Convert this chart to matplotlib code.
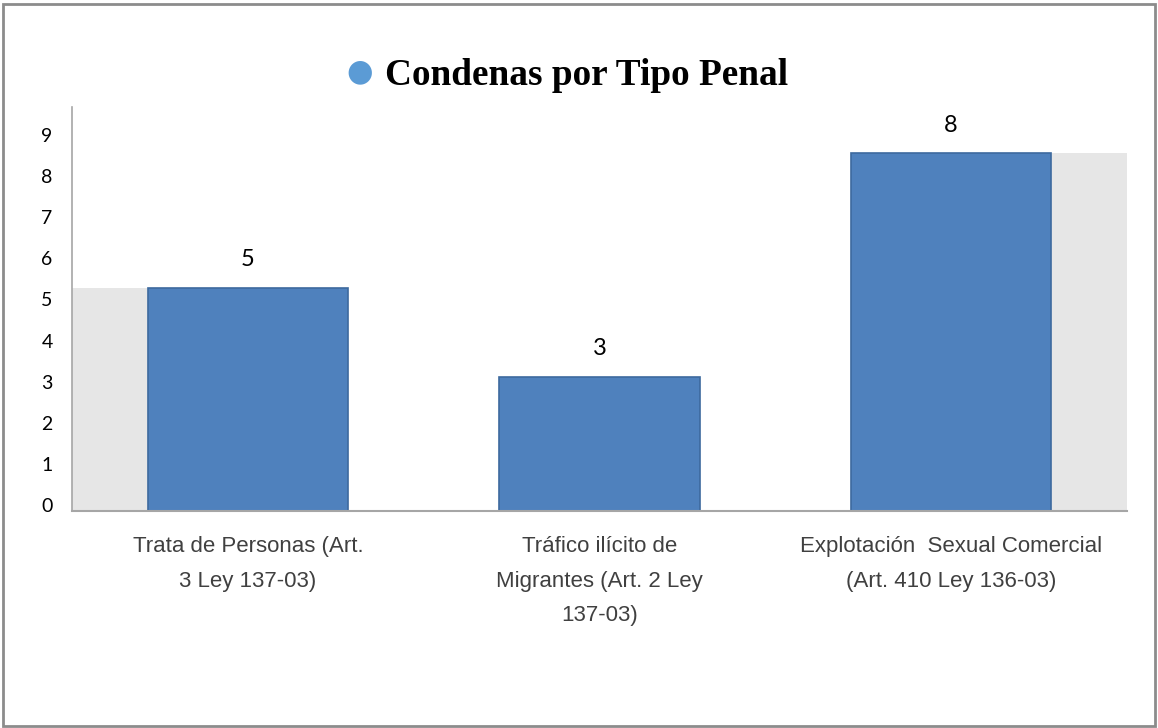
import matplotlib.pyplot as plt
import numpy as np
from matplotlib.patches import Rectangle

categories = [
    "Trata de Personas (Art.\n3 Ley 137-03)",
    "Tráfico ilícito de\nMigrantes (Art. 2 Ley\n137-03)",
    "Explotación  Sexual Comercial\n(Art. 410 Ley 136-03)",
]
values = [5, 3, 8]
# the printed axis labels sit slightly lower than the bar scale in the original
tick_labels = [str(t) for t in range(10)]

bar_color = "#4f81bd"
edge_color = "#3d6a9e"
shade_color = "#e6e6e6"
axis_color = "#a6a6a6"

fig = plt.figure(figsize=(11.58, 7.28), dpi=100)
ax = fig.add_axes([72 / 1158, 217 / 728, 1055 / 1158, 404 / 728])

x = np.arange(len(values))
width = 0.57

# light grey "depth" panels at both ends of the plot area
ax.bar(x[0] - 0.5, values[0], width=0.5 - width / 2, align="edge",
       color=shade_color, linewidth=0, zorder=1)
ax.bar(x[-1] + width / 2, values[-1], width=0.5 - width / 2, align="edge",
       color=shade_color, linewidth=0, zorder=1)

bars = ax.bar(x, values, width=width, color=bar_color,
              edgecolor=edge_color, linewidth=1.2, zorder=2)

for b, v in zip(bars, values):
    ax.text(b.get_x() + b.get_width() / 2, v + 0.4, str(v),
            ha="center", va="bottom", fontsize=17, family="Lato")

ax.set_xlim(-0.5, len(values) - 0.5)
ax.set_ylim(0, 9.04)

tick_pos = 0.134 + 0.92 * np.arange(10)
ax.set_yticks(tick_pos)
ax.set_yticklabels(tick_labels, fontsize=14, family="Lato")
ax.tick_params(axis="y", length=0, pad=14)

ax.set_xticks(x)
ax.set_xticklabels(categories, fontsize=16, family="Liberation Sans",
                   color="#404040", linespacing=1.85)
ax.tick_params(axis="x", length=0, pad=18)

for s in ["top", "right"]:
    ax.spines[s].set_visible(False)
ax.spines["left"].set_color(axis_color)
ax.spines["bottom"].set_color(axis_color)
ax.spines["left"].set_linewidth(1.2)
ax.spines["bottom"].set_linewidth(1.5)

# title with round bullet
fig.text(360 / 1158, 1 - 72 / 728, "\u25cf", color="#5b9bd5", fontsize=22,
         ha="center", va="center", family="DejaVu Sans")
fig.text(385 / 1158, 1 - 85 / 728, "Condenas por Tipo Penal", fontsize=26.8,
         fontweight="bold", family="Liberation Serif", ha="left", va="baseline")

# outer frame
fig.patches.append(Rectangle((3 / 1158, 2 / 728), 1152 / 1158, 722 / 728,
                             transform=fig.transFigure, fill=False,
                             edgecolor="#8c8c8c", linewidth=2))

fig.savefig("out.png", dpi=100)
